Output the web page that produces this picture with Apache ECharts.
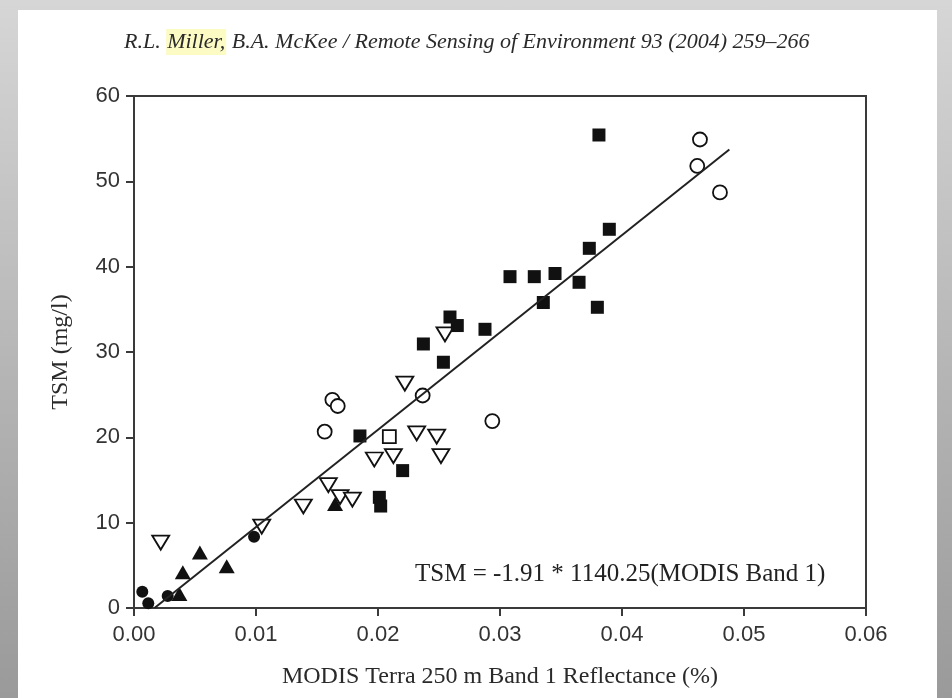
<!DOCTYPE html>
<html>
<head>
<meta charset="utf-8">
<script src="https://cdn.jsdelivr.net/npm/echarts@6/dist/echarts.min.js"></script>
<style>
html, body { margin: 0; padding: 0; width: 952px; height: 698px; overflow: hidden; }
body { background: linear-gradient(#d6d6d6, #b4b4b4 55%, #9a9a9a); }
#page { position: absolute; left: 18px; top: 10px; width: 919px; height: 688px; background: #fff; }
#chart { position: absolute; left: 0; top: 0; width: 952px; height: 698px; }
</style>
</head>
<body>
<div id="page"></div>
<div id="chart"></div>
<script>
// points, [reflectance, TSM]
const filledCircles = [[0.00068, 1.9], [0.00117, 0.55], [0.00276, 1.4], [0.00984, 8.36]];
const filledTriangles = [[0.00372, 1.64], [0.0040, 4.18], [0.0054, 6.5], [0.0076, 4.9], [0.01648, 12.2]];
const openDownTriangles = [
	[0.00219, 7.66], [0.01047, 9.53], [0.01388, 11.9], [0.01593, 14.4], [0.01689, 13.0],
	[0.0179, 12.7], [0.0197, 17.4], [0.02126, 17.8], [0.02317, 20.47], [0.02481, 20.08],
	[0.02516, 17.8], [0.0222, 26.3], [0.02549, 32.07]
];
const openCircles = [
	[0.01563, 20.66], [0.01626, 24.4], [0.0167, 23.67], [0.02366, 24.9],
	[0.02937, 21.9], [0.04617, 51.8], [0.04639, 54.9], [0.04803, 48.7]
];
const openSquares = [[0.02093, 20.08]];
const filledSquares = [
	[0.01852, 20.16], [0.02011, 12.97], [0.02022, 11.95], [0.02202, 16.1], [0.02372, 30.94],
	[0.02536, 28.8], [0.0259, 34.1], [0.0265, 33.1], [0.02877, 32.66], [0.03082, 38.83],
	[0.03281, 38.83], [0.03355, 35.8], [0.03451, 39.2], [0.03648, 38.17], [0.03732, 42.15],
	[0.03798, 35.24], [0.03811, 55.43], [0.03896, 44.38]
];

// regression line as printed in the figure
const fitIntercept = -1.91;
const fitSlope = 1140.25;
const fitRange = [0.00168, 0.0488];

const headerText = 'R.L. Miller, B.A. McKee / Remote Sensing of Environment 93 (2004) 259–266';
const equationText = 'TSM = -1.91 * 1140.25(MODIS Band 1)';

const ink = '#111';
const axisColor = '#3a3a3a';

const fitLine = fitRange.map(x => [x, fitIntercept + fitSlope * x]);

const filled = (name, data, symbol, size, extra = {}) => Object.assign({
	name, type: 'scatter', data, symbol, symbolSize: size,
	itemStyle: { color: ink, opacity: 1 }
}, extra);

const hollow = (name, data, symbol, size, extra = {}) => Object.assign({
	name, type: 'scatter', data, symbol, symbolSize: size,
	itemStyle: { color: '#fff', borderColor: ink, borderWidth: 1.8, opacity: 1 }
}, extra);

const myChart = echarts.init(document.getElementById('chart'));
myChart.setOption({
	animation: false,
	backgroundColor: 'transparent',
	grid: {
		left: 134, right: 86, top: 96, bottom: 90,
		show: true, borderColor: axisColor, borderWidth: 2
	},
	xAxis: {
		type: 'value',
		min: 0, max: 0.06, interval: 0.01,
		name: 'MODIS Terra 250 m Band 1 Reflectance (%)',
		nameLocation: 'middle',
		nameGap: 57,
		nameTextStyle: { fontFamily: 'Liberation Serif', fontSize: 24, color: '#2a2a2a' },
		axisLine: { onZero: false, lineStyle: { color: axisColor, width: 2 } },
		axisTick: { length: 8, lineStyle: { color: axisColor, width: 2 } },
		axisLabel: {
			margin: 16, fontFamily: 'Liberation Sans', fontSize: 22, color: '#333',
			formatter: v => v.toFixed(2)
		},
		splitLine: { show: false }
	},
	yAxis: {
		type: 'value',
		min: 0, max: 60, interval: 10,
		name: 'TSM (mg/l)',
		nameLocation: 'middle',
		nameRotate: 90,
		nameGap: 61,
		nameTextStyle: { fontFamily: 'Liberation Serif', fontSize: 24, color: '#2a2a2a' },
		axisLine: { onZero: false, lineStyle: { color: axisColor, width: 2 } },
		axisTick: { length: 8, lineStyle: { color: axisColor, width: 2 } },
		axisLabel: { margin: 14, fontFamily: 'Liberation Sans', fontSize: 22, color: '#333' },
		splitLine: { show: false }
	},
	graphic: [
		{
			type: 'text',
			x: 124, y: 42,
			style: {
				text: '{a|R.L. }{h|Miller,}{a|' + headerText.slice('R.L. Miller,'.length) + '}',
				verticalAlign: 'middle',
				rich: {
					a: { fontFamily: 'Liberation Serif', fontStyle: 'italic', fontSize: 22, fill: '#2a2a2a' },
					h: {
						fontFamily: 'Liberation Serif', fontStyle: 'italic', fontSize: 22, fill: '#2a2a2a',
						backgroundColor: '#fdfbc4', padding: [2, 1]
					}
				}
			}
		},
		{
			type: 'text',
			x: 415, y: 574,
			style: {
				text: equationText,
				verticalAlign: 'middle',
				fontFamily: 'Liberation Serif', fontSize: 25, fill: '#222'
			}
		}
	],
	series: [
		{
			name: 'fit', type: 'line', data: fitLine,
			showSymbol: false, symbol: 'none',
			lineStyle: { color: '#222', width: 2 }
		},
		filled('filled circles', filledCircles, 'circle', 12),
		filled('filled triangles', filledTriangles, 'triangle', [16, 14]),
		hollow('open triangles', openDownTriangles, 'triangle', [17, 14], { symbolRotate: 180 }),
		hollow('open circles', openCircles, 'circle', 14),
		hollow('open squares', openSquares, 'rect', 13),
		filled('filled squares', filledSquares, 'rect', 13)
	]
});
</script>
</body>
</html>
